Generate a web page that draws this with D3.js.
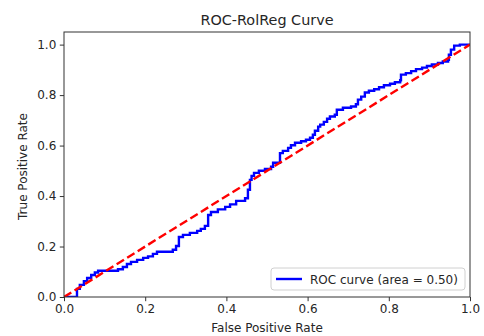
<!DOCTYPE html>
<html>
<head>
<meta charset="utf-8">
<script src="https://cdn.jsdelivr.net/npm/d3@7"></script>
<style>
  html, body { margin: 0; padding: 0; background: #fff; }
  svg { display: block; }
  text { font-family: "DejaVu Sans", sans-serif; fill: #262626; }
</style>
</head>
<body>
<svg id="chart" width="484" height="336"></svg>
<script>
// ROC curve points (false positive rate / true positive rate)
const fpr = [0, 0.032, 0.039, 0.049, 0.057, 0.067, 0.076, 0.084, 0.133, 0.145,
  0.155, 0.165, 0.180, 0.195, 0.207, 0.219, 0.229, 0.268, 0.276, 0.283,
  0.293, 0.310, 0.328, 0.337, 0.347, 0.355, 0.362, 0.379, 0.397, 0.409,
  0.424, 0.446, 0.453, 0.458, 0.462, 0.468, 0.480, 0.495, 0.510, 0.515,
  0.532, 0.539, 0.552, 0.559, 0.569, 0.584, 0.596, 0.606, 0.613, 0.618,
  0.626, 0.631, 0.640, 0.648, 0.655, 0.667, 0.672, 0.687, 0.707, 0.719,
  0.724, 0.732, 0.741, 0.751, 0.764, 0.776, 0.788, 0.803, 0.815, 0.828,
  0.830, 0.842, 0.855, 0.867, 0.882, 0.894, 0.906, 0.921, 0.933, 0.946,
  0.948, 0.953, 0.961, 0.975, 1.0];
const tpr = [0, 0.032, 0.048, 0.063, 0.075, 0.087, 0.097, 0.104, 0.110, 0.119,
  0.131, 0.139, 0.147, 0.155, 0.161, 0.171, 0.179, 0.187, 0.202, 0.238,
  0.246, 0.254, 0.262, 0.270, 0.282, 0.325, 0.337, 0.347, 0.357, 0.367,
  0.381, 0.391, 0.425, 0.464, 0.480, 0.492, 0.500, 0.507, 0.516, 0.532,
  0.570, 0.579, 0.591, 0.601, 0.611, 0.617, 0.623, 0.631, 0.643, 0.659,
  0.675, 0.683, 0.694, 0.706, 0.715, 0.722, 0.742, 0.750, 0.755, 0.764,
  0.782, 0.794, 0.810, 0.817, 0.823, 0.831, 0.839, 0.845, 0.851, 0.859,
  0.881, 0.887, 0.895, 0.903, 0.909, 0.915, 0.921, 0.927, 0.933, 0.940,
  0.960, 0.980, 0.996, 1.0, 1.0];
const chanceX = [0, 1];
const chanceY = [0, 1];
const tickValues = [0, 0.2, 0.4, 0.6, 0.8, 1.0];
const aucLabel = "ROC curve (area = 0.50)";
const titleText = "ROC-RolReg Curve";

const svg = d3.select("#chart");
const plotLeft = 64, plotRight = 470, plotTop = 32, plotBottom = 297;

const x = d3.scaleLinear().domain([0, 1]).range([plotLeft, plotRight]);
const y = d3.scaleLinear().domain([0, 1.05]).range([plotBottom, plotTop]);

svg.append("defs").append("clipPath").attr("id", "plotClip")
  .append("rect").attr("x", plotLeft).attr("y", plotTop)
  .attr("width", plotRight - plotLeft).attr("height", plotBottom - plotTop);

const plot = svg.append("g").attr("clip-path", "url(#plotClip)");

// ROC curve drawn as a staircase
plot.append("path")
  .datum(fpr.map((f, i) => [f, tpr[i]]))
  .attr("d", d3.line().x(d => x(d[0])).y(d => y(d[1])).curve(d3.curveStepAfter))
  .attr("fill", "none")
  .attr("stroke", "#0000ff")
  .attr("stroke-width", 2.4)
  .attr("stroke-linejoin", "miter");

// Chance diagonal
plot.append("path")
  .datum(chanceX.map((v, i) => [v, chanceY[i]]))
  .attr("d", d3.line().x(d => x(d[0])).y(d => y(d[1])))
  .attr("fill", "none")
  .attr("stroke", "#ff0000")
  .attr("stroke-width", 2.4)
  .attr("stroke-dasharray", "8.6,3.8");

// Axes
const xAxis = d3.axisBottom(x).tickValues(tickValues).tickFormat(d3.format(".1f"))
  .tickSize(4.2).tickPadding(3.5);
const yAxis = d3.axisLeft(y).tickValues(tickValues).tickFormat(d3.format(".1f"))
  .tickSize(4.2).tickPadding(3.5);

const gx = svg.append("g").attr("transform", `translate(0,${plotBottom})`).call(xAxis);
const gy = svg.append("g").attr("transform", `translate(${plotLeft},0)`).call(yAxis);
[gx, gy].forEach(g => {
  g.select(".domain").remove();
  g.selectAll(".tick line").attr("stroke", "#333").attr("stroke-width", 1);
  g.selectAll(".tick text").attr("font-size", 12).attr("fill", "#262626")
    .style("font-family", "DejaVu Sans, sans-serif");
});

// Frame
svg.append("rect")
  .attr("x", plotLeft).attr("y", plotTop)
  .attr("width", plotRight - plotLeft).attr("height", plotBottom - plotTop)
  .attr("fill", "none").attr("stroke", "#333").attr("stroke-width", 1);

// Title and axis labels
svg.append("text").attr("x", (plotLeft + plotRight) / 2).attr("y", 25)
  .attr("text-anchor", "middle").attr("font-size", 14.4).text(titleText);
svg.append("text").attr("x", (plotLeft + plotRight) / 2).attr("y", 332)
  .attr("text-anchor", "middle").attr("font-size", 12).text("False Positive Rate");
svg.append("text").attr("transform", `translate(27,${(plotTop + plotBottom) / 2 + 2}) rotate(-90)`)
  .attr("text-anchor", "middle").attr("font-size", 12).text("True Positive Rate");

// Legend
const lg = svg.append("g");
lg.append("rect").attr("x", 271).attr("y", 268).attr("width", 194).attr("height", 22)
  .attr("rx", 3).attr("fill", "#fff").attr("fill-opacity", 0.8)
  .attr("stroke", "#d0d0d0").attr("stroke-width", 1);
lg.append("line").attr("x1", 276).attr("x2", 302).attr("y1", 279).attr("y2", 279)
  .attr("stroke", "#0000ff").attr("stroke-width", 2.4);
lg.append("text").attr("x", 310).attr("y", 283.5).attr("font-size", 12).text(aucLabel);
</script>
</body>
</html>
